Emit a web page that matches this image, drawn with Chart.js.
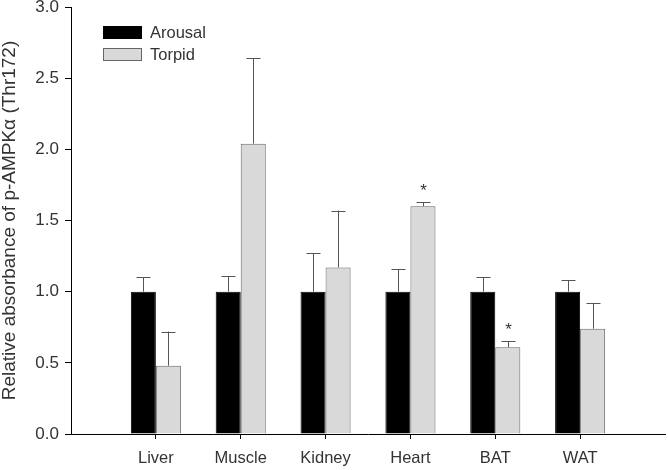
<!DOCTYPE html>
<html>
<head>
<meta charset="utf-8">
<script src="https://cdn.jsdelivr.net/npm/chart.js@4.4.0/dist/chart.umd.min.js"></script>
<style>
html, body { margin: 0; padding: 0; background: #fff; }
#wrap { width: 668px; height: 470px; }
</style>
</head>
<body>
<div id="wrap"><canvas id="barChart"></canvas></div>
<script>
var tissues = ['Liver', 'Muscle', 'Kidney', 'Heart', 'BAT', 'WAT'];
var arousal = [1.0, 1.0, 1.0, 1.0, 1.0, 1.0];
var arousalErr = [0.10, 0.11, 0.27, 0.16, 0.10, 0.08];
var torpid = [0.48, 2.04, 1.17, 1.60, 0.61, 0.74];
var torpidErr = [0.24, 0.60, 0.40, 0.03, 0.04, 0.18];
var torpidSig = [false, false, false, true, true, false];
var yTicks = [0, 0.5, 1.0, 1.5, 2.0, 2.5, 3.0];

var FONT = "'Liberation Sans', Arial, sans-serif";
var TEXT = '#333';

// empty slot on each side so the groups sit like the original
function pad(arr, fill) { return [fill].concat(arr, [fill]); }

var errorBars = {
    id: 'errorBars',
    afterDatasetsDraw: function(chart) {
        var ctx = chart.ctx, y = chart.scales.y;
        ctx.save();
        chart.data.datasets.forEach(function(ds, i) {
            var meta = chart.getDatasetMeta(i);
            meta.data.forEach(function(bar, j) {
                var k = j - 1;
                if (k < 0 || k >= tissues.length) return;
                var base = y.getPixelForValue(ds.data[j]);
                var top = y.getPixelForValue(ds.data[j] + ds.errors[k]);
                var x = Math.round(bar.x) + 0.5;
                ctx.strokeStyle = '#555';
                ctx.lineWidth = 1;
                ctx.beginPath();
                ctx.moveTo(x, base);
                ctx.lineTo(x, top);
                ctx.moveTo(x - 7, Math.round(top) + 0.5);
                ctx.lineTo(x + 7, Math.round(top) + 0.5);
                ctx.stroke();
                if (ds.sig && ds.sig[k]) {
                    ctx.fillStyle = TEXT;
                    ctx.font = '17px ' + FONT;
                    ctx.textAlign = 'center';
                    ctx.textBaseline = 'alphabetic';
                    ctx.fillText('*', x, top - 6);
                }
            });
        });
        ctx.restore();
    }
};

var boxLegend = {
    id: 'boxLegend',
    afterDraw: function(chart) {
        var ctx = chart.ctx;
        ctx.save();
        chart.data.datasets.forEach(function(ds, i) {
            var y0 = 26 + i * 22;
            ctx.fillStyle = ds.backgroundColor;
            ctx.fillRect(103, y0, 39, 13);
            ctx.strokeStyle = ds.borderColor;
            ctx.lineWidth = 1;
            ctx.strokeRect(103.5, y0 + 0.5, 38, 12);
            ctx.fillStyle = TEXT;
            ctx.font = '16.5px ' + FONT;
            ctx.textAlign = 'left';
            ctx.textBaseline = 'middle';
            ctx.fillText(ds.label, 150, y0 + 7);
        });
        ctx.restore();
    }
};

var ctx = document.getElementById('barChart').getContext('2d');
var barChart = new Chart(ctx, {
    type: 'bar',
    data: {
        labels: pad(tissues, ''),
        datasets: [{
            label: 'Arousal',
            data: pad(arousal, null),
            errors: arousalErr,
            backgroundColor: '#000',
            borderColor: '#000',
            borderWidth: 1
        }, {
            label: 'Torpid',
            data: pad(torpid, null),
            errors: torpidErr,
            sig: torpidSig,
            backgroundColor: '#d9d9d9',
            borderColor: '#666',
            borderWidth: 1
        }]
    },
    options: {
        responsive: true,
        maintainAspectRatio: false,
        animation: false,
        categoryPercentage: 0.59,
        barPercentage: 1.0,
        layout: { padding: 0 },
        plugins: {
            legend: { display: false },
            tooltip: { enabled: false }
        },
        scales: {
            x: {
                offset: false,
                afterFit: function(scale) {
                    scale.height = 36;
                    scale.paddingRight = 3;
                    scale.paddingLeft = 0;
                },
                grid: {
                    offset: false,
                    drawOnChartArea: false,
                    tickLength: 5,
                    tickColor: function(c) {
                        return (c.index === 0 || c.index === tissues.length + 1) ? 'rgba(0,0,0,0)' : '#000';
                    }
                },
                border: { color: '#000', width: 1 },
                ticks: {
                    color: TEXT,
                    font: { family: FONT, size: 16.5 },
                    padding: 10,
                    maxRotation: 0,
                    autoSkip: false
                }
            },
            y: {
                min: 0,
                max: 3,
                afterFit: function(scale) {
                    scale.width = 71;
                    scale.paddingTop = 7;
                    scale.paddingBottom = 0;
                },
                afterBuildTicks: function(scale) {
                    scale.ticks = yTicks.map(function(v) { return { value: v }; });
                },
                grid: { drawOnChartArea: false, tickLength: 6, tickColor: '#000' },
                border: { color: '#000', width: 1 },
                ticks: {
                    color: TEXT,
                    font: { family: FONT, size: 17 },
                    padding: 6,
                    callback: function(v) { return Number(v).toFixed(1); }
                },
                title: {
                    display: true,
                    text: 'Relative absorbance of p-AMPK\u03b1 (Thr172)',
                    color: TEXT,
                    font: { family: FONT, size: 19, lineHeight: 1.0 },
                    padding: { top: 0, bottom: 0 }
                }
            }
        }
    },
    plugins: [errorBars, boxLegend]
});
</script>
</body>
</html>
